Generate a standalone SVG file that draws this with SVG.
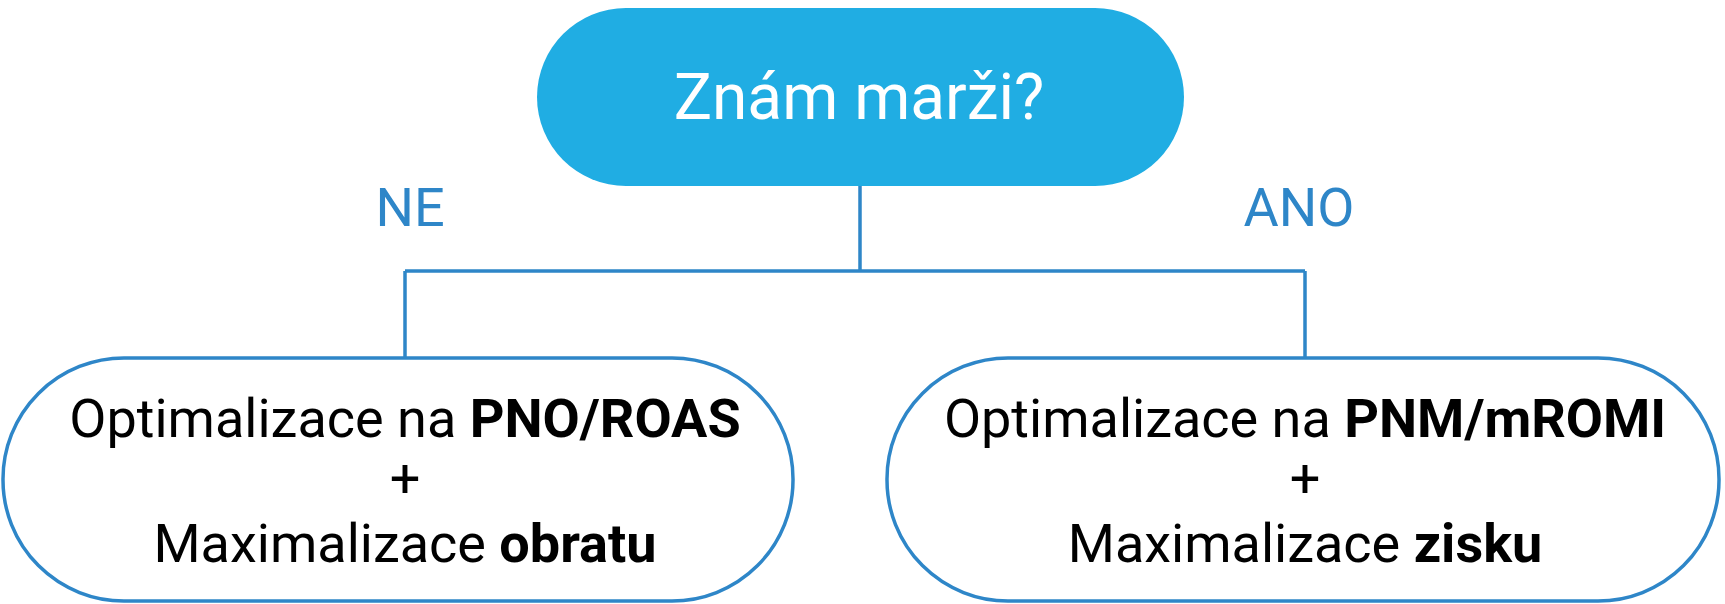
<svg xmlns="http://www.w3.org/2000/svg" width="1725" height="604" viewBox="0 0 1725 604">
  <style>
    .conn { fill: none; stroke: #2e86c8; stroke-width: 3.5; }
    .leaf { fill: #ffffff; stroke: #2e86c8; stroke-width: 3.5; }
    .root { fill: #20ade3; }
    .t { font-family: Roboto, "Liberation Sans", sans-serif; text-anchor: middle; }
    .body { font-size: 54px; fill: #000000; }
    .lbl { font-size: 54px; fill: #2e86c8; }
    .b { font-weight: bold; }
  </style>

  <g id="connectors">
    <path class="conn" d="M860,186 V271 M405,271 H1305 M405,271 V358 M1305,271 V358"/>
    <text class="t lbl" x="410" y="226">NE</text>
    <text class="t lbl" x="1299" y="226">ANO</text>
  </g>

  <g id="root">
    <rect class="root" x="537" y="8" width="647" height="178" rx="89" ry="89"/>
    <text class="t" x="859" y="119" font-size="64" fill="#ffffff">Znám marži?</text>
  </g>

  <g id="leaf-ne">
    <rect class="leaf" x="3" y="358" width="790" height="243" rx="121" ry="121"/>
    <text class="t body" x="405" y="437">Optimalizace na <tspan class="b">PNO/ROAS</tspan></text>
    <text class="t body" x="405" y="497">+</text>
    <text class="t body" x="405" y="562">Maximalizace <tspan class="b">obratu</tspan></text>
  </g>

  <g id="leaf-ano">
    <rect class="leaf" x="887" y="358" width="832" height="243" rx="121" ry="121"/>
    <text class="t body" x="1305" y="437">Optimalizace na <tspan class="b">PNM/mROMI</tspan></text>
    <text class="t body" x="1305" y="497">+</text>
    <text class="t body" x="1305" y="562">Maximalizace <tspan class="b">zisku</tspan></text>
  </g>
</svg>
